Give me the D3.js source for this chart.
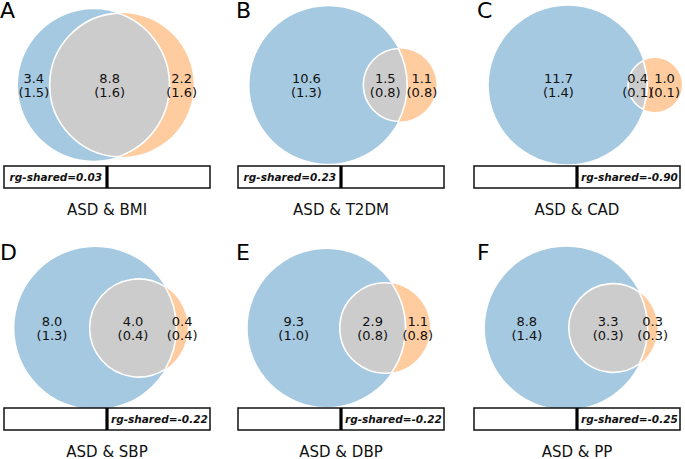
<!DOCTYPE html>
<html>
<head>
<meta charset="utf-8">
<script src="https://cdn.jsdelivr.net/npm/d3@7"></script>
<style>
  html, body { margin: 0; padding: 0; background: #fff; }
  svg { display: block; font-family: "DejaVu Sans", sans-serif; }
</style>
</head>
<body>
<svg id="chart" width="685" height="459"></svg>
<script>
// ---- data ----
const panelLetters = ["A", "B", "C", "D", "E", "F"];
const traits = ["BMI", "T2DM", "CAD", "SBP", "DBP", "PP"];
const asdOnly = [3.4, 10.6, 11.7, 8.0, 9.3, 8.8];
const asdOnlySE = [1.5, 1.3, 1.4, 1.3, 1.0, 1.4];
const shared = [8.8, 1.5, 0.4, 4.0, 2.9, 3.3];
const sharedSE = [1.6, 0.8, 0.1, 0.4, 0.8, 0.3];
const traitOnly = [2.2, 1.1, 1.0, 0.4, 1.1, 0.3];
const traitOnlySE = [1.6, 0.8, 0.1, 0.4, 0.8, 0.3];
const rgShared = [0.03, 0.23, -0.90, -0.22, -0.22, -0.25];

// ---- layout ----
const colCenters = [107, 341, 577];
const letterX = [0, 236, 477];
const rowVennCY = [85, 328];
const rowBarTop = [166, 408];
const rowLabelY = [215, 457];
const rowLetterY = [18, 260];
const pxPerUnit = 146;
const barW = 206, barH = 22;
const blue = "#a5c9e1", orange = "#ffcc9f", gray = "#cccccc";

const svg = d3.select("#chart");

function lensArea(r1, r2, d) {
  if (d >= r1 + r2) return 0;
  if (d <= Math.abs(r1 - r2)) return Math.PI * Math.min(r1, r2) ** 2;
  const a1 = Math.acos((d * d + r1 * r1 - r2 * r2) / (2 * d * r1));
  const a2 = Math.acos((d * d + r2 * r2 - r1 * r1) / (2 * d * r2));
  const k = Math.sqrt((-d + r1 + r2) * (d + r1 - r2) * (d - r1 + r2) * (d + r1 + r2));
  return r1 * r1 * a1 + r2 * r2 * a2 - 0.5 * k;
}
function solveDistance(r1, r2, area) {
  let lo = Math.abs(r1 - r2), hi = r1 + r2;
  for (let i = 0; i < 100; i++) {
    const mid = (lo + hi) / 2;
    if (lensArea(r1, r2, mid) > area) lo = mid; else hi = mid;
  }
  return (lo + hi) / 2;
}

panelLetters.forEach((letter, i) => {
  const col = i % 3, row = Math.floor(i / 3);
  const cx = colCenters[col], cy = rowVennCY[row];
  const g = svg.append("g");

  // normalized areas (matplotlib-venn style)
  const total = asdOnly[i] + shared[i] + traitOnly[i];
  const aA = (asdOnly[i] + shared[i]) / total;
  const aB = (traitOnly[i] + shared[i]) / total;
  const aAB = shared[i] / total;
  const r1 = Math.sqrt(aA / Math.PI), r2 = Math.sqrt(aB / Math.PI);
  const d = solveDistance(r1, r2, aAB);
  const com = (r2 * r2 * d) / (r1 * r1 + r2 * r2);
  const x1 = -com, x2 = d - com;

  const x = d3.scaleLinear().domain([-1, 1]).range([cx - pxPerUnit, cx + pxPerUnit]);
  const y = d3.scaleLinear().domain([-1, 1]).range([cy + pxPerUnit, cy - pxPerUnit]);
  const R = v => x(v) - x(0);

  g.append("circle").attr("cx", x(x1)).attr("cy", y(0)).attr("r", R(r1)).attr("fill", blue);
  g.append("circle").attr("cx", x(x2)).attr("cy", y(0)).attr("r", R(r2)).attr("fill", orange);

  // lens
  const xi = (d * d + r1 * r1 - r2 * r2) / (2 * d); // chord position rel. to center1
  const h = Math.sqrt(Math.max(0, r1 * r1 - xi * xi));
  const px = x(x1 + xi), pTop = y(h), pBot = y(-h);
  const large1 = xi < 0 ? 1 : 0;
  const large2 = (xi - d) > 0 ? 1 : 0;
  const path = `M${px},${pTop} A${R(r1)},${R(r1)} 0 ${large1} 1 ${px},${pBot} A${R(r2)},${R(r2)} 0 ${large2} 1 ${px},${pTop} Z`;
  g.append("path").attr("d", path).attr("fill", gray).attr("stroke", "#fff").attr("stroke-width", 1.6);

  // labels
  const leftA = x1 - r1, leftB = x2 - r2, rightA = x1 + r1, rightB = x2 + r2;
  const labels = [
    { pos: (leftA + leftB) / 2, v: asdOnly[i], se: asdOnlySE[i] },
    { pos: (leftB + rightA) / 2, v: shared[i], se: sharedSE[i] },
    { pos: (rightA + rightB) / 2, v: traitOnly[i], se: traitOnlySE[i] }
  ];
  labels.forEach(l => {
    const t = g.append("text").attr("x", x(l.pos)).attr("text-anchor", "middle")
      .attr("font-size", 13).attr("fill", "#111");
    t.append("tspan").attr("x", x(l.pos)).attr("y", y(0) - 2.5).text(l.v.toFixed(1));
    t.append("tspan").attr("x", x(l.pos)).attr("y", y(0) + 11.5).text("(" + l.se.toFixed(1) + ")");
  });

  // rg bar
  const bx = d3.scaleLinear().domain([-1, 1]).range([cx - barW / 2, cx + barW / 2]);
  const top = rowBarTop[row];
  g.append("rect").attr("x", bx(-1)).attr("y", top).attr("width", bx(1) - bx(-1)).attr("height", barH)
    .attr("fill", "#fff").attr("stroke", "#111").attr("stroke-width", 1.5);
  g.append("line").attr("x1", bx(0)).attr("x2", bx(0)).attr("y1", top).attr("y2", top + barH)
    .attr("stroke", "#000").attr("stroke-width", 3.2);
  const pos = rgShared[i] >= 0;
  g.append("text")
    .attr("x", pos ? bx(0) - 5 : bx(0) + 4)
    .attr("y", top + barH / 2 + 4)
    .attr("text-anchor", pos ? "end" : "start")
    .attr("font-size", 10.5).attr("font-weight", "bold").attr("font-style", "italic").attr("fill", "#111")
    .text("rg-shared=" + rgShared[i].toFixed(2));

  // trait label
  g.append("text").attr("x", cx).attr("y", rowLabelY[row]).attr("text-anchor", "middle")
    .attr("font-size", 15).attr("fill", "#111").text("ASD & " + traits[i]);

  // panel letter
  svg.append("text").attr("x", letterX[col]).attr("y", rowLetterY[row])
    .attr("font-size", 22).attr("fill", "#000").text(letter);
});
</script>
</body>
</html>
